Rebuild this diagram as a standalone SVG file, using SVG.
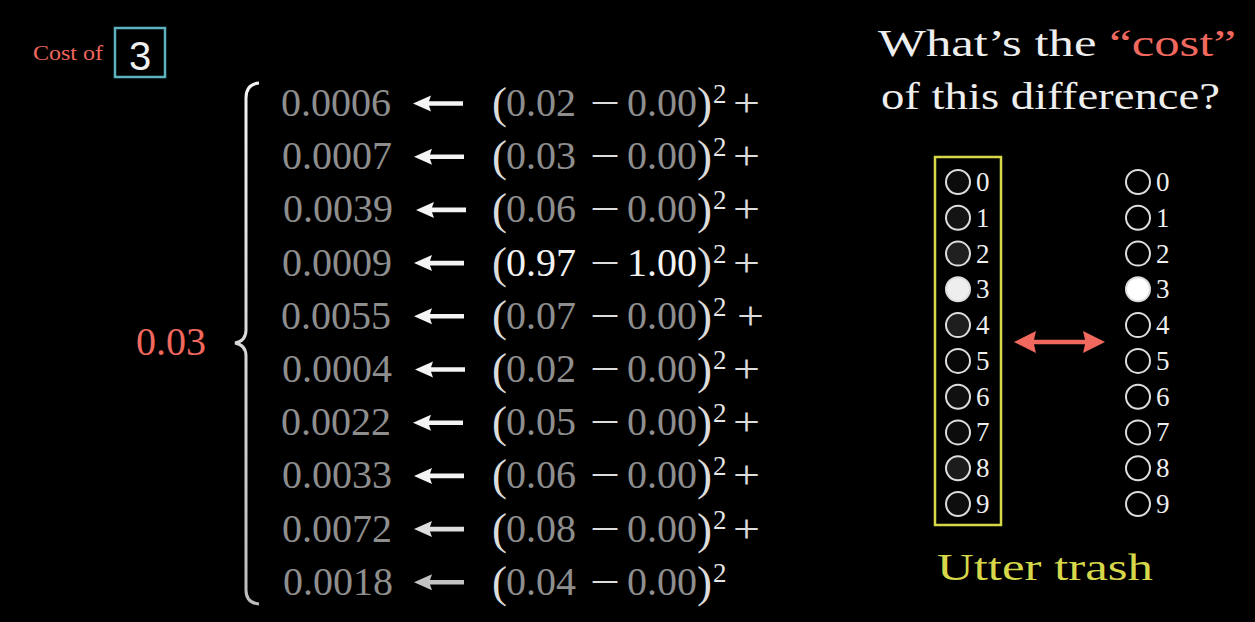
<svg xmlns="http://www.w3.org/2000/svg" width="1255" height="622" viewBox="0 0 1255 622">
<defs>
<style>
text{font-family:"Liberation Serif","DejaVu Serif",serif}
.num{font-size:40px;fill:#8e8e8e}
.op{font-size:40px;fill:#dcdcdc}
.par{font-size:45px;fill:#dcdcdc}
.dig{font-size:40px;fill:#8e8e8e}
.hi{fill:#f2f2f2}
.sup{font-size:27px;fill:#e6e6e6}
.red{fill:#f0685e}
.lbl{font-size:27px;fill:#eeeeee}
.nd{stroke:#dddddd;stroke-width:2}
.arr{fill:#f4f4f4}
</style>
<path id="larr" d="M0,0 L18,-8 L16,-2.3 L50,-2.3 L50,2.3 L16,2.3 L18,8 Z"/>
<linearGradient id="bg" x1="0" y1="0" x2="0" y2="1">
<stop offset="0" stop-color="#f4f4f4"/>
<stop offset="1" stop-color="#bdbdbd"/>
</linearGradient>
</defs>
<rect x="0" y="0" width="1255" height="622" fill="#000"/>

<g id="cost-of">
<text x="33" y="60" font-size="21" class="red" textLength="70" lengthAdjust="spacingAndGlyphs">Cost of</text>
<rect x="115" y="28" width="50" height="49" fill="none" stroke="#5cb3bf" stroke-width="2.5"/>
<text x="140" y="70" font-size="40" fill="#f0f0f0" text-anchor="middle" style="font-family:'Liberation Sans',sans-serif">3</text>
</g>

<g id="total">
<text x="136" y="355" font-size="40" class="red">0.03</text>
<path d="M259,83 Q246,84 246,98 L246,330 Q246,341 235,343 Q246,345 246,356 L246,590 Q246,603 259,604" fill="none" stroke="url(#bg)" stroke-width="3"/>
</g>

<g id="costs">
<text class="num" x="281" y="116">0.0006</text>
<text class="num" x="282" y="169.2">0.0007</text>
<text class="num" x="283" y="222.4">0.0039</text>
<text class="num" x="282" y="275.6">0.0009</text>
<text class="num" x="281" y="328.8">0.0055</text>
<text class="num" x="282" y="382">0.0004</text>
<text class="num" x="281" y="435.2">0.0022</text>
<text class="num" x="282" y="488.4">0.0033</text>
<text class="num" x="282" y="541.6">0.0072</text>
<text class="num" x="283" y="594.8">0.0018</text>
</g>

<g id="terms">
<g id="term0" transform="translate(0,116)">
<text class="par" x="492" y="2">(</text><text class="dig" x="506" y="0">0.02</text><text class="op" x="590" y="0" textLength="30" lengthAdjust="spacingAndGlyphs">−</text><text class="dig" x="627" y="0">0.00</text><text class="par" x="697" y="2">)</text><text class="sup" x="713" y="-13">2</text><text class="op" x="733" y="0" textLength="27" lengthAdjust="spacingAndGlyphs">+</text>
</g>
<g id="term1" transform="translate(0,169.2)">
<text class="par" x="492" y="2">(</text><text class="dig" x="506" y="0">0.03</text><text class="op" x="590" y="0" textLength="30" lengthAdjust="spacingAndGlyphs">−</text><text class="dig" x="627" y="0">0.00</text><text class="par" x="697" y="2">)</text><text class="sup" x="713" y="-13">2</text><text class="op" x="733" y="0" textLength="27" lengthAdjust="spacingAndGlyphs">+</text>
</g>
<g id="term2" transform="translate(0,222.4)">
<text class="par" x="492" y="2">(</text><text class="dig" x="506" y="0">0.06</text><text class="op" x="590" y="0" textLength="30" lengthAdjust="spacingAndGlyphs">−</text><text class="dig" x="627" y="0">0.00</text><text class="par" x="697" y="2">)</text><text class="sup" x="713" y="-13">2</text><text class="op" x="733" y="0" textLength="27" lengthAdjust="spacingAndGlyphs">+</text>
</g>
<g id="term3" transform="translate(0,275.6)">
<text class="par" x="492" y="2">(</text><text class="dig hi" x="506" y="0">0.97</text><text class="op" x="590" y="0" textLength="30" lengthAdjust="spacingAndGlyphs">−</text><text class="dig hi" x="627" y="0">1.00</text><text class="par" x="697" y="2">)</text><text class="sup" x="713" y="-13">2</text><text class="op" x="733" y="0" textLength="27" lengthAdjust="spacingAndGlyphs">+</text>
</g>
<g id="term4" transform="translate(0,328.8)">
<text class="par" x="492" y="2">(</text><text class="dig" x="506" y="0">0.07</text><text class="op" x="590" y="0" textLength="30" lengthAdjust="spacingAndGlyphs">−</text><text class="dig" x="627" y="0">0.00</text><text class="par" x="697" y="2">)</text><text class="sup" x="713" y="-13">2</text><text class="op" x="737" y="0" textLength="27" lengthAdjust="spacingAndGlyphs">+</text>
</g>
<g id="term5" transform="translate(0,382)">
<text class="par" x="492" y="2">(</text><text class="dig" x="506" y="0">0.02</text><text class="op" x="590" y="0" textLength="30" lengthAdjust="spacingAndGlyphs">−</text><text class="dig" x="627" y="0">0.00</text><text class="par" x="697" y="2">)</text><text class="sup" x="713" y="-13">2</text><text class="op" x="733" y="0" textLength="27" lengthAdjust="spacingAndGlyphs">+</text>
</g>
<g id="term6" transform="translate(0,435.2)">
<text class="par" x="492" y="2">(</text><text class="dig" x="506" y="0">0.05</text><text class="op" x="590" y="0" textLength="30" lengthAdjust="spacingAndGlyphs">−</text><text class="dig" x="627" y="0">0.00</text><text class="par" x="697" y="2">)</text><text class="sup" x="713" y="-13">2</text><text class="op" x="733" y="0" textLength="27" lengthAdjust="spacingAndGlyphs">+</text>
</g>
<g id="term7" transform="translate(0,488.4)">
<text class="par" x="492" y="2">(</text><text class="dig" x="506" y="0">0.06</text><text class="op" x="590" y="0" textLength="30" lengthAdjust="spacingAndGlyphs">−</text><text class="dig" x="627" y="0">0.00</text><text class="par" x="697" y="2">)</text><text class="sup" x="713" y="-13">2</text><text class="op" x="733" y="0" textLength="27" lengthAdjust="spacingAndGlyphs">+</text>
</g>
<g id="term8" transform="translate(0,541.6)">
<text class="par" x="492" y="2">(</text><text class="dig" x="506" y="0">0.08</text><text class="op" x="590" y="0" textLength="30" lengthAdjust="spacingAndGlyphs">−</text><text class="dig" x="627" y="0">0.00</text><text class="par" x="697" y="2">)</text><text class="sup" x="713" y="-13">2</text><text class="op" x="733" y="0" textLength="27" lengthAdjust="spacingAndGlyphs">+</text>
</g>
<g id="term9" transform="translate(0,594.8)">
<text class="par" x="492" y="2">(</text><text class="dig" x="506" y="0">0.04</text><text class="op" x="590" y="0" textLength="30" lengthAdjust="spacingAndGlyphs">−</text><text class="dig" x="627" y="0">0.00</text><text class="par" x="697" y="2">)</text><text class="sup" x="713" y="-13">2</text>
</g>
</g>

<g id="question">
<text x="878" y="56" font-size="38" fill="#eeeeee" textLength="358" lengthAdjust="spacingAndGlyphs">What’s the <tspan class="red">“cost”</tspan></text>
<text x="881" y="109" font-size="38" fill="#eeeeee" textLength="339" lengthAdjust="spacingAndGlyphs">of this difference?</text>
</g>

<g id="output-layer">
<rect x="935" y="157" width="66" height="368" fill="none" stroke="#d6d84a" stroke-width="2.5"/>
<circle class="nd" cx="958" cy="182" r="12" fill="#0c0c0c"/>
<circle class="nd" cx="958" cy="217.8" r="12" fill="#141414"/>
<circle class="nd" cx="958" cy="253.6" r="12" fill="#202020"/>
<circle class="nd" cx="958" cy="289.3" r="12" fill="#eeeeee"/>
<circle class="nd" cx="958" cy="325.1" r="12" fill="#1e1e1e"/>
<circle class="nd" cx="958" cy="360.9" r="12" fill="#080808"/>
<circle class="nd" cx="958" cy="396.7" r="12" fill="#101010"/>
<circle class="nd" cx="958" cy="432.4" r="12" fill="#0c0c0c"/>
<circle class="nd" cx="958" cy="468.2" r="12" fill="#1c1c1c"/>
<circle class="nd" cx="958" cy="504" r="12" fill="#0e0e0e"/>
<text class="lbl" x="976" y="191">0</text>
<text class="lbl" x="976" y="226.8">1</text>
<text class="lbl" x="976" y="262.6">2</text>
<text class="lbl" x="976" y="298.3">3</text>
<text class="lbl" x="976" y="334.1">4</text>
<text class="lbl" x="976" y="369.9">5</text>
<text class="lbl" x="976" y="405.7">6</text>
<text class="lbl" x="976" y="441.4">7</text>
<text class="lbl" x="976" y="477.2">8</text>
<text class="lbl" x="976" y="513">9</text>
<text x="937" y="580" font-size="38" fill="#d6d84a" textLength="216" lengthAdjust="spacingAndGlyphs">Utter trash</text>
</g>

<g id="target-layer">
<circle class="nd" cx="1138" cy="182" r="12" fill="#000"/>
<circle class="nd" cx="1138" cy="217.8" r="12" fill="#000"/>
<circle class="nd" cx="1138" cy="253.6" r="12" fill="#000"/>
<circle class="nd" cx="1138" cy="289.3" r="12" fill="#ffffff"/>
<circle class="nd" cx="1138" cy="325.1" r="12" fill="#000"/>
<circle class="nd" cx="1138" cy="360.9" r="12" fill="#000"/>
<circle class="nd" cx="1138" cy="396.7" r="12" fill="#000"/>
<circle class="nd" cx="1138" cy="432.4" r="12" fill="#000"/>
<circle class="nd" cx="1138" cy="468.2" r="12" fill="#000"/>
<circle class="nd" cx="1138" cy="504" r="12" fill="#000"/>
<text class="lbl" x="1156" y="191">0</text>
<text class="lbl" x="1156" y="226.8">1</text>
<text class="lbl" x="1156" y="262.6">2</text>
<text class="lbl" x="1156" y="298.3">3</text>
<text class="lbl" x="1156" y="334.1">4</text>
<text class="lbl" x="1156" y="369.9">5</text>
<text class="lbl" x="1156" y="405.7">6</text>
<text class="lbl" x="1156" y="441.4">7</text>
<text class="lbl" x="1156" y="477.2">8</text>
<text class="lbl" x="1156" y="513">9</text>
</g>

<g id="connectors">
<use href="#larr" class="arr" x="413" y="103.5"/>
<use href="#larr" class="arr" x="414" y="156.7"/>
<use href="#larr" class="arr" x="416" y="209.9"/>
<use href="#larr" class="arr" x="414" y="263.1"/>
<use href="#larr" class="arr" x="414" y="316.3"/>
<use href="#larr" class="arr" x="415" y="369.5"/>
<use href="#larr" class="arr" x="413" y="422.7"/>
<use href="#larr" class="arr" x="414" y="475.9"/>
<use href="#larr" fill="#dedede" x="414" y="529.1"/>
<use href="#larr" fill="#c4c4c4" x="414" y="582.3"/>
<path d="M1014,342 L1036,331 L1034,339.8 L1085,339.8 L1083,331 L1105,342 L1083,353 L1085,344.2 L1034,344.2 L1036,353 Z" fill="#f0685e"/>
</g>
</svg>
